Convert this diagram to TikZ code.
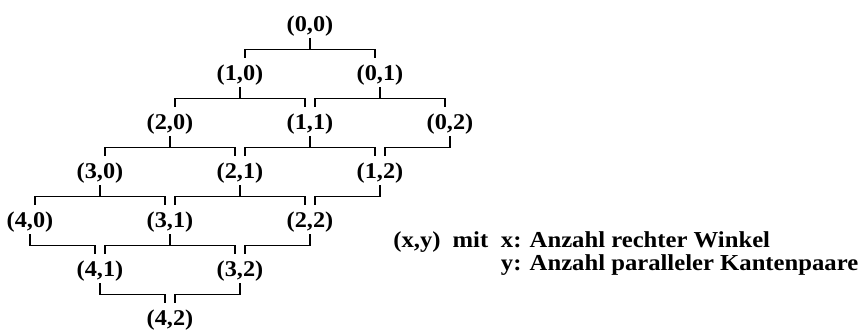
\documentclass[tikz,border=0pt]{standalone}
\usepackage{fontspec}
\setmainfont[FakeStretch=1.08]{Liberation Serif}
\usepackage{tikz}
\usetikzlibrary{calc,positioning}

\begin{document}
\begin{tikzpicture}[
  lbl/.style={inner sep=0pt, text height=0.455cm, text depth=0.125cm,
    font=\fontsize{12.8}{15}\selectfont\bfseries},
  legend/.style={inner sep=0pt, text height=0.3cm, text depth=0.08cm,
    font=\fontsize{13}{15}\selectfont\bfseries},
  link/.style={black, line width=0.8pt}
]
\useasboundingbox (0,0) rectangle (17.34,6.62);
% ── Lattice of pairs (x,y) ───────────────────────
\foreach \x in {0,...,4} \foreach \y in {0,1,2} {
  \node[lbl] (n\x\y) at ({6.2-1.4*(\x-\y)}, {6.15-0.98*(\x+\y)}) {(\x,\y)};
}
% left children (x+1,y)
\foreach \x/\xn in {0/1,1/2,2/3,3/4} \foreach \y in {0,1,2} {
  \draw[link] (n\x\y.south) -- ++(0,-0.22) -| ([xshift=0.1cm]n\xn\y.north);
}
% right children (x,y+1)
\foreach \x in {0,...,4} \foreach \y/\yn in {0/1,1/2} {
  \draw[link] (n\x\y.south) -- ++(0,-0.22) -| ([xshift=-0.1cm]n\x\yn.north);
}
% ── Legend ───────────────────────────────────────
\node[legend, anchor=base west] (xymit) at (7.86,1.66) {(x,y)\hspace{0.24cm}mit};
\node[legend, anchor=base west] (defx) at ([xshift=0.24cm]xymit.base east)
  {x: Anzahl rechter Winkel};
\node[legend, anchor=base west] (defy) at ([yshift=-0.46cm]defx.base west)
  {y: Anzahl paralleler Kantenpaare};
\end{tikzpicture}
\end{document}
